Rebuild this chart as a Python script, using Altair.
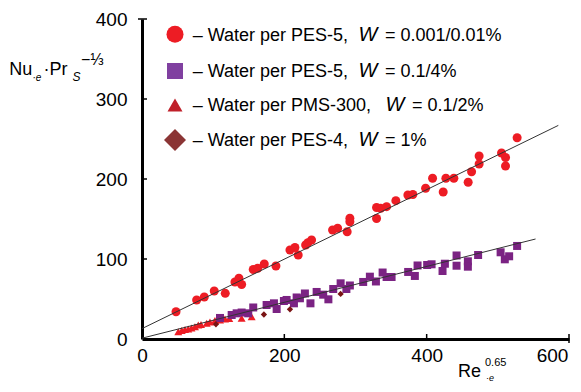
import altair as alt
import pandas as pd

# ---- data ----
# Water per PES-5, W = 0.001/0.01%  (red circles)
circ_x = [47.8, 76.8, 87.5, 101.5, 117.0, 130.6, 136.2, 140.0, 156.3, 162.5,
          171.8, 188.2, 207.9, 214.9, 219.5, 229.9, 233.1, 238.3, 267.8, 274.9,
          288.3, 292.1, 292.1, 329.6, 329.6, 335.3, 343.7, 356.7, 373.6, 380.6,
          398.5, 408.3, 423.2, 427.0, 438.2, 458.3, 463.1, 473.7, 473.7, 505.2,
          510.8, 510.8, 527.1]
circ_y = [34.1, 48.8, 52.5, 60.0, 57.1, 71.3, 75.9, 68.1, 86.9, 88.4,
          93.8, 91.3, 111.3, 114.4, 105.0, 117.5, 120.4, 123.8, 136.3, 138.4,
          134.1, 150.9, 146.6, 150.6, 164.4, 163.4, 165.4, 172.9, 180.0, 180.6,
          188.4, 200.9, 183.8, 200.9, 200.9, 195.9, 209.1, 218.8, 228.8, 232.5,
          226.9, 216.3, 251.6]

# Water per PES-5, W = 0.1/4%  (purple squares)
sq_x = [109.6, 126.0, 133.0, 140.0, 149.3, 156.3, 175.1, 185.4, 189.2, 199.4,
        203.2, 213.5, 217.3, 221.9, 228.9, 236.7, 245.4, 254.6, 261.9, 268.7,
        279.1, 287.2, 292.1, 310.8, 320.2, 328.7, 338.1, 343.7, 350.7, 374.0,
        383.4, 387.2, 400.7, 406.9, 422.3, 425.6, 442.0, 442.0, 457.9, 457.9,
        472.3, 503.9, 509.8, 515.9, 527.1]
sq_y = [26.3, 30.0, 32.1, 33.1, 32.1, 39.4, 42.5, 44.6, 37.5, 47.5,
        48.8, 44.6, 51.9, 50.9, 56.9, 44.6, 58.8, 55.4, 49.6, 62.5,
        69.6, 62.5, 66.9, 71.3, 77.9, 71.9, 83.1, 77.5, 77.5, 83.8,
        78.8, 91.9, 92.5, 93.4, 85.0, 94.1, 104.4, 91.6, 97.1, 90.4,
        105.0, 108.4, 99.6, 103.4, 116.3]

# Water per PMS-300, W = 0.1/2%  (red triangles)
tri_x = [51.0, 55.8, 60.4, 65.0, 69.5, 74.4, 79.1, 82.9, 90.9, 95.5,
         102.5, 109.6, 116.6, 122.6, 140.0, 154.1]
tri_y = [9.1, 10.6, 11.9, 12.5, 13.8, 15.4, 17.5, 18.1, 19.6, 21.3,
         23.1, 23.8, 25.0, 25.6, 25.9, 27.9]

# Water per PES-4, W = 1%  (dark red diamonds)
dia_x = [103.9, 171.3, 207.9, 279.1]
dia_y = [18.4, 30.6, 37.1, 56.3]

# fitted lines (end points)
fit_up_x = [0, 585]
fit_up_y = [13, 267]
fit_lo_x = [0, 553]
fit_lo_y = [1, 125]

x_ticks = [0, 200, 400, 600]
y_ticks = [0, 100, 200, 300, 400]

FONT = "Liberation Sans"
W, H = 427, 320

xs = alt.Scale(domain=[0, 600], nice=False, zero=False)
ys = alt.Scale(domain=[0, 400], nice=False, zero=False)
xax = alt.Axis(values=x_ticks, title=None, labelPadding=7, labelFlush=False,
               labelOffset={"condition": {"test": "datum.value == 600", "value": -17},
                            "value": 0})
yax = alt.Axis(values=y_ticks, title=None, labelPadding=15)

X = alt.X("x:Q", scale=xs, axis=xax)
Y = alt.Y("y:Q", scale=ys, axis=yax)


def pts(xv, yv, shape, color, size):
    df = pd.DataFrame({"x": xv, "y": yv})
    return alt.Chart(df).mark_point(shape=shape, filled=True, size=size,
                                    color=color, opacity=1, strokeWidth=0).encode(x=X, y=Y)


def fit(xv, yv):
    df = pd.DataFrame({"x": xv, "y": yv})
    return alt.Chart(df).mark_line(color="#333333", strokeWidth=1).encode(x=X, y=Y)


one = pd.DataFrame({"a": [0]})


def txt(s, x, y, size=18, style="normal", align="left", baseline="alphabetic"):
    return alt.Chart(one).mark_text(
        font=FONT, fontSize=size, fontStyle=style, align=align,
        baseline=baseline, color="black"
    ).encode(x=alt.value(x), y=alt.value(y), text=alt.value(s))


def sym(shape, color, size, x, y):
    return alt.Chart(one).mark_point(shape=shape, filled=True, size=size, color=color,
                                     opacity=1, strokeWidth=0).encode(
        x=alt.value(x), y=alt.value(y))


# inner ticks
ytk = alt.Chart(pd.DataFrame({"y": [100, 200, 300]})).mark_rule(
    color="black", strokeWidth=1.5).encode(y=Y, x=alt.value(0), x2=alt.value(5))
ycap = alt.Chart(pd.DataFrame({"y": [400]})).mark_rule(
    color="black", strokeWidth=1.5).encode(y=Y, x=alt.value(-4), x2=alt.value(5))
xtk = alt.Chart(pd.DataFrame({"x": [200, 400]})).mark_rule(
    color="black", strokeWidth=1.5).encode(x=X, y=alt.value(315), y2=alt.value(320))
xcap = alt.Chart(pd.DataFrame({"x": [600]})).mark_rule(
    color="black", strokeWidth=1.5).encode(x=X, y=alt.value(315), y2=alt.value(324))

layers = [
    pts(tri_x, tri_y, "triangle-up", "#ED1C24", 64),
    pts(sq_x, sq_y, "square", "#7B2383", 64),
    pts(dia_x, dia_y, "diamond", "#7A1414", 40),
    pts(circ_x, circ_y, "circle", "#ED1C24", 81),
    fit(fit_up_x, fit_up_y),
    fit(fit_lo_x, fit_lo_y),
    ytk, ycap, xtk, xcap,
]

# legend
leg = [
    ("circle", "#ED1C24", 289, 15.3, 21.7, "– Water per PES-5, ", 216.5, "= 0.001/0.01%", 243),
    ("square", "#8040A0", 256, 52.0, 58.3, "– Water per PES-5, ", 216.5, "= 0.1/4%", 243),
    ("triangle-up", "#C0202A", 225, 86.0, 91.7, "– Water per PMS-300, ", 243.5, "= 0.1/2%", 270),
    ("diamond", "#8B3535", 484, 121.0, 126.7, "– Water per PES-4, ", 216.5, "= 1%", 243),
]
for shape, col, sz, sy, ty, pre, wx, suf, sx in leg:
    layers.append(sym(shape, col, sz, 33, sy))
    layers.append(txt(pre, 50.7, ty))
    layers.append(txt("W", wx, ty, size=20, style="italic"))
    layers.append(txt(suf, sx, ty))

# y-axis title  Nu·e·Pr_S^(-1/3)
layers += [
    txt("Nu", -132.7, 56),
    txt("·e", -109.5, 62, size=10, style="italic"),
    txt("·Pr", -98.5, 56),
    txt("S", -69.5, 61.5, size=12, style="italic"),
    txt("−⅓", -61, 46, size=16),
]
# x-axis title  Re_*e^0.65
layers += [
    txt("Re", 316, 358),
    txt("0.65", 343, 347, size=11),
    txt("·e", 344, 362, size=9, style="italic"),
]

chart = alt.layer(*layers).properties(
    width=W, height=H,
    autosize=alt.AutoSizeParams(type="none"),
    padding={"left": 134, "top": 11, "right": 4, "bottom": 45},
).configure_view(stroke=None).configure_axis(
    domainColor="black", domainWidth=3, grid=False, ticks=False, tickSize=0,
    labelFont=FONT, labelFontSize=19, labelColor="black",
)

chart.save("out.html", embed_options={"renderer": "svg", "actions": False})
